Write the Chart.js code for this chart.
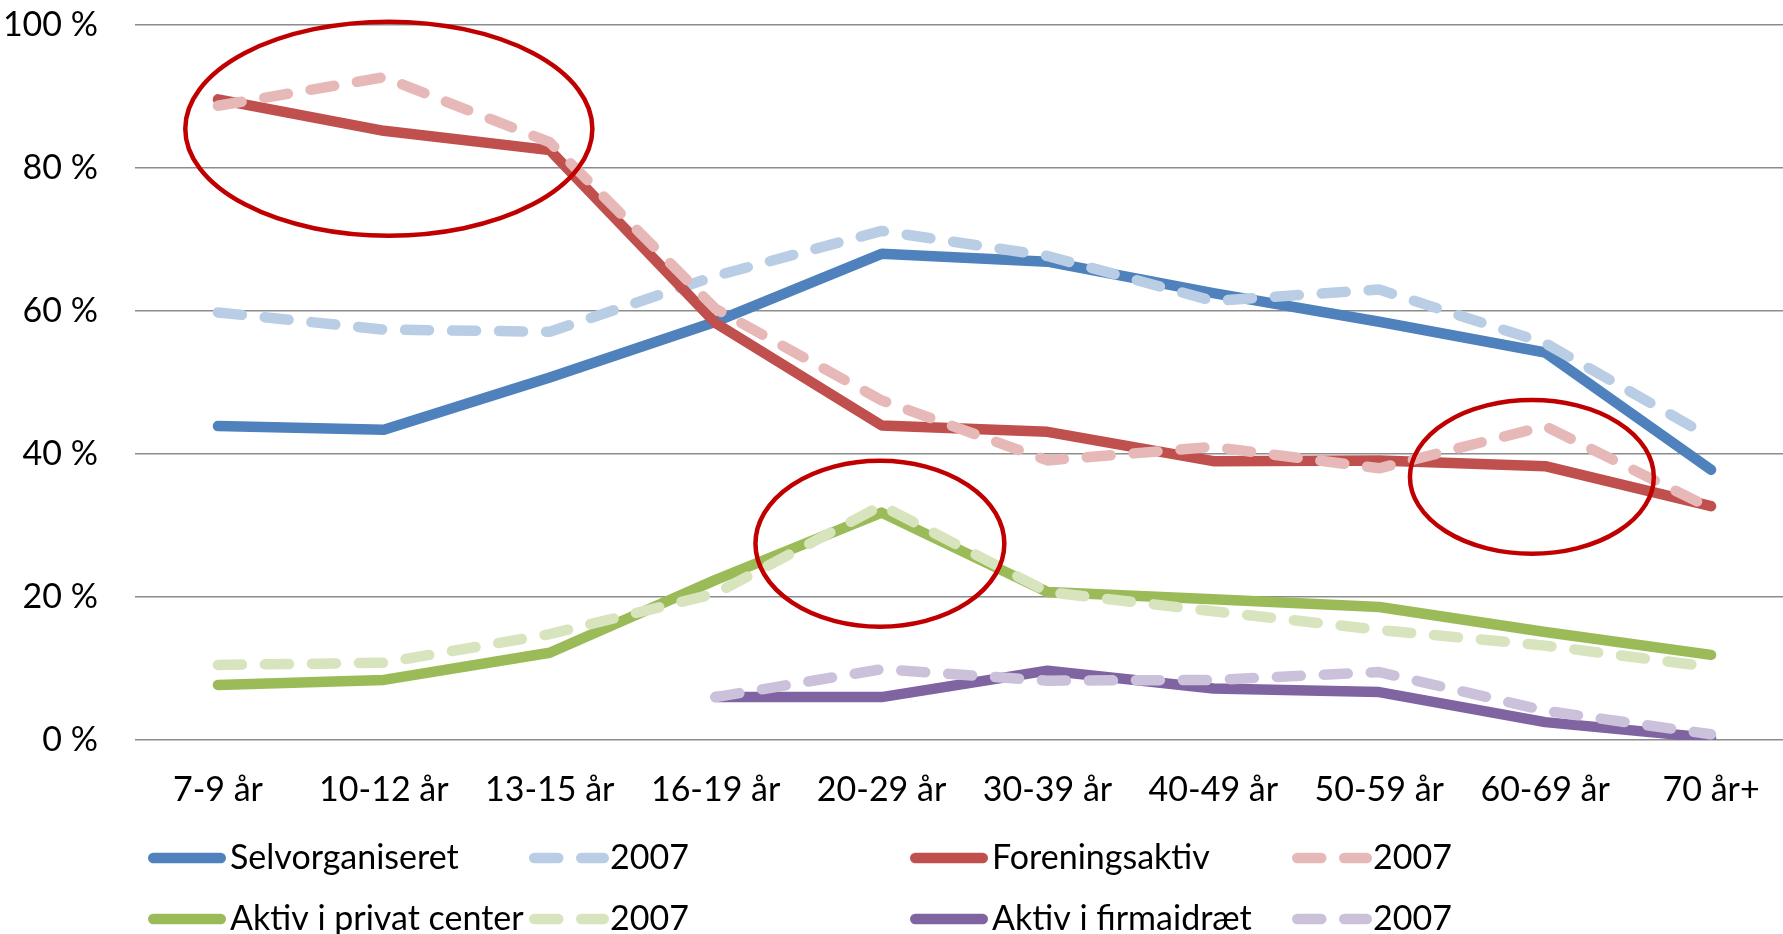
<!DOCTYPE html>
<html>
<head>
<meta charset="utf-8">
<script src="https://cdn.jsdelivr.net/npm/chart.js@4.4.0/dist/chart.umd.min.js"></script>
<style>
  html, body { margin: 0; padding: 0; background: #fff; overflow: hidden; width: 1783px; height: 934px; }
  #wrap { position: absolute; left: 0; top: 0; width: 1794px; height: 934px; }
</style>
</head>
<body>
<div id="wrap"><canvas id="c" width="1794" height="934"></canvas></div>
<script>
// ---- Data ----
const categories = ['7-9 år', '10-12 år', '13-15 år', '16-19 år', '20-29 år', '30-39 år', '40-49 år', '50-59 år', '60-69 år', '70 år+'];

const selvorganiseret      = [43.9, 43.4, 50.7, 58.5, 68.0, 66.9, 62.5, 58.5, 54.2, 37.8];
const selvorganiseret2007  = [59.8, 57.4, 57.1, 64.9, 71.2, 67.7, 61.4, 63.0, 55.5, 42.3];
const foreningsaktiv       = [89.6, 85.2, 82.5, 58.3, 44.0, 43.1, 39.0, 39.1, 38.3, 32.7];
const foreningsaktiv2007   = [88.7, 92.7, 83.6, 60.3, 47.5, 39.1, 41.0, 38.0, 43.9, 32.4];
const privatCenter         = [7.7, 8.4, 12.2, 22.4, 31.8, 20.7, 19.7, 18.6, 15.1, 11.9];
const privatCenter2007     = [10.5, 10.8, 14.8, 20.5, 32.8, 20.7, 18.0, 15.4, 13.2, 10.2];
const firmaidraet          = [null, null, null, 6.0, 6.0, 9.7, 7.2, 6.7, 2.5, 0.3];
const firmaidraet2007      = [null, null, null, 6.0, 9.9, 8.3, 8.4, 9.5, 4.1, 0.8];

const seriesLabels = ['Selvorganiseret', '2007', 'Foreningsaktiv', '2007', 'Aktiv i privat center', '2007', 'Aktiv i firmaidræt', '2007'];

const yTicks = [0, 20, 40, 60, 80, 100];
const yTickLabels = ['0 %', '20 %', '40 %', '60 %', '80 %', '100 %'];

// highlighted regions (category index, value, radius in categories, radius in %)
const ellipseIndex  = [1.03, 3.99, 7.92];
const ellipseValue  = [85.5, 27.45, 36.8];
const ellipseRxCat  = [1.227, 0.75, 0.735];
const ellipseRyPct  = [14.97, 11.6, 10.75];

// ---- Styles ----
const FONT = 'Lato';
const colors = ['#4F81BD', '#B9CDE5', '#C0504D', '#E6B9B8', '#9BBB59', '#D7E4BD', '#8064A2', '#CCC1DA'];
const dashed = [false, true, false, true, false, true, false, true];
const LW = 10.5;
const DASH = [24, 23];

const seriesData = [selvorganiseret, selvorganiseret2007, foreningsaktiv, foreningsaktiv2007,
                    privatCenter, privatCenter2007, firmaidraet, firmaidraet2007];

const datasets = seriesData.map((d, i) => ({
  label: seriesLabels[i],
  data: d,
  borderColor: colors[i],
  backgroundColor: colors[i],
  borderWidth: LW,
  borderDash: dashed[i] ? DASH : [],
  borderCapStyle: 'round',
  borderJoinStyle: 'round',
  pointRadius: 0,
  pointHoverRadius: 0,
  tension: 0,
  fill: false,
  spanGaps: false,
  order: seriesData.length - 1 - i
}));

const ellipsePlugin = {
  id: 'ellipses',
  afterDatasetsDraw(chart) {
    const xs = chart.scales.x, ys = chart.scales.y, ctx = chart.ctx;
    const step = xs.getPixelForValue(1) - xs.getPixelForValue(0);
    ctx.save();
    ctx.strokeStyle = '#C00000';
    ctx.lineWidth = 4.5;
    for (let k = 0; k < ellipseIndex.length; k++) {
      const cx = xs.getPixelForValue(0) + ellipseIndex[k] * step;
      const cy = ys.getPixelForValue(ellipseValue[k]);
      const rx = ellipseRxCat[k] * step;
      const ry = Math.abs(ys.getPixelForValue(ellipseValue[k] + ellipseRyPct[k]) - cy);
      ctx.beginPath();
      ctx.ellipse(cx, cy, rx, ry, 0, 0, Math.PI * 2);
      ctx.stroke();
    }
    ctx.restore();
  }
};

// legend laid out in a 4-column grid
const legendCols = [148, 529, 910, 1292];
const legendRows = [858, 919];
const legendPlugin = {
  id: 'gridLegend',
  afterDraw(chart) {
    const ctx = chart.ctx;
    ctx.save();
    ctx.font = '34px ' + FONT;
    ctx.textBaseline = 'middle';
    ctx.textAlign = 'left';
    chart.data.datasets.forEach((ds, i) => {
      const col = legendCols[i % 4];
      const y = legendRows[Math.floor(i / 4)];
      const isDash = ds.borderDash && ds.borderDash.length;
      const len = isDash ? 80 : 78;
      ctx.strokeStyle = ds.borderColor;
      ctx.lineWidth = LW;
      ctx.lineCap = 'round';
      ctx.setLineDash(isDash ? ds.borderDash : []);
      ctx.beginPath();
      ctx.moveTo(col + LW / 2, y);
      ctx.lineTo(col + len - LW / 2, y);
      ctx.stroke();
      ctx.setLineDash([]);
      ctx.fillStyle = '#000';
      ctx.fillText(ds.label, col + (isDash ? 81 : 82), y);
    });
    ctx.restore();
  }
};

function draw() {
  new Chart(document.getElementById('c'), {
    type: 'line',
    data: { labels: categories, datasets },
    plugins: [ellipsePlugin, legendPlugin],
    options: {
      responsive: false,
      animation: false,
      devicePixelRatio: 1,
      layout: { padding: { top: 25, right: 0, bottom: 0, left: 0 } },
      plugins: { legend: { display: false }, tooltip: { enabled: false } },
      events: [],
      scales: {
        x: {
          type: 'category',
          offset: true,
          grid: { display: false, drawTicks: false },
          border: { display: false },
          ticks: { color: '#000', font: { family: FONT, size: 34 }, padding: 30, maxRotation: 0, autoSkip: false },
          afterFit(scale) { scale.height = 194; }
        },
        y: {
          min: 0, max: 100,
          afterBuildTicks(scale) { scale.ticks = yTicks.map(v => ({ value: v })); },
          grid: { color: '#8C8C8C', lineWidth: 1.6, drawTicks: true, tickLength: 37, tickColor: 'rgba(0,0,0,0)' },
          border: { display: false },
          ticks: {
            color: '#000', font: { family: FONT, size: 34 }, padding: 0,
            callback: (v) => yTickLabels[yTicks.indexOf(v)]
          },
          afterFit(scale) { scale.width = 135; }
        }
      }
    }
  });
}

if (document.fonts && document.fonts.load) {
  document.fonts.load('34px ' + FONT).then(draw, draw);
} else { draw(); }
</script>
</body>
</html>
